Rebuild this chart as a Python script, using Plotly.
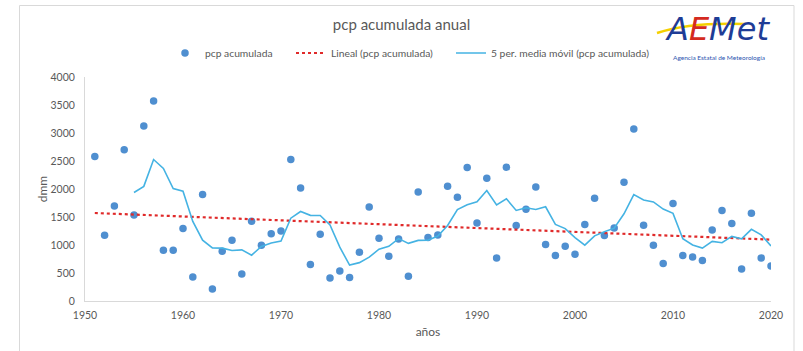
import numpy as np
import plotly.graph_objects as go

years = list(range(1951, 2021))
pcp = [2579, 1173, 1696, 2703, 1536, 3125, 3571, 905, 905, 1293,
       429, 1900, 214, 887, 1084, 482, 1423, 995, 1203, 1250,
       2525, 2018, 650, 1191, 411, 536, 418, 870, 1679, 1120,
       798, 1107, 441, 1946, 1132, 1179, 2048, 1852, 2382, 1393,
       2191, 768, 2388, 1346, 1637, 2036, 1007, 811, 977, 834,
       1364, 1834, 1168, 1304, 2120, 3071, 1352, 995, 668, 1739,
       811, 786, 721, 1268, 1614, 1382, 571, 1566, 768, 625]

# linear trendline as drawn in the chart (values read at both ends)
trend_years = [1951, 2020]
trend_vals = [1571, 1096]

title_text = "pcp acumulada anual"
x_title = "años"
y_title = "dmm"
name_pts = "pcp acumulada"
name_lin = "Lineal (pcp acumulada)"
name_ma = "5 per. media móvil (pcp acumulada)"

vals = np.array(pcp, dtype=float)
# 5-period moving average of the series (as Excel computes it)
ma = np.convolve(vals, np.ones(5) / 5, mode="valid")
ma_years = years[4:]

FONT = "Lato"
GREY = "#595959"

W, H = 803, 351
L, R, T, B = 85, 32, 77, 50
PW, PH = W - L - R, H - T - B


def px(x):
    return (x - L) / PW


def py(y):
    return (H - B - y) / PH


fig = go.Figure()
fig.add_trace(go.Scatter(
    x=years, y=pcp, mode="markers", name=name_pts,
    marker=dict(color="#4F8FD0", size=7.5),
    legend="legend"))
fig.add_trace(go.Scatter(
    x=trend_years, y=trend_vals, mode="lines", name=name_lin,
    line=dict(color="#E02A2A", width=2.2, dash="dot"),
    legend="legend2"))
fig.add_trace(go.Scatter(
    x=ma_years, y=ma, mode="lines", name=name_ma,
    line=dict(color="#45B3E3", width=1.6),
    legend="legend3"))

leg_common = dict(orientation="h", yanchor="middle", xanchor="left",
                  font=dict(family=FONT, size=10.3, color=GREY),
                  bgcolor="rgba(0,0,0,0)", borderwidth=0)
fig.update_layout(
    legend=dict(x=px(165), y=py(53), **leg_common),
    legend2=dict(x=px(291), y=py(53), **leg_common),
    legend3=dict(x=px(451), y=py(53), **leg_common),
)

fig.update_layout(
    width=W, height=H,
    margin=dict(l=L, r=R, t=T, b=B, pad=0),
    paper_bgcolor="white", plot_bgcolor="white",
    font=dict(family=FONT, color=GREY),
    title=dict(text=title_text, x=0.5, xref="container", xanchor="center",
               y=1 - 25 / H, yref="container", yanchor="middle",
               font=dict(family=FONT, size=15, color=GREY)),
    showlegend=True,
    xaxis=dict(range=[1950, 2020], dtick=10, tick0=1950, showgrid=False,
               zeroline=False, showline=True, linecolor="#D9D9D9", linewidth=1,
               ticks="", tickfont=dict(family=FONT, size=10.5, color=GREY),
               ticklabelstandoff=4,
               title=dict(text=x_title, standoff=8,
                          font=dict(family=FONT, size=12, color=GREY))),
    yaxis=dict(range=[0, 4000], dtick=500, tick0=0, showgrid=False,
               zeroline=False, showline=True, linecolor="#D9D9D9", linewidth=1,
               ticks="", tickfont=dict(family=FONT, size=10.5, color=GREY),
               ticklabelstandoff=7,
               title=dict(text=y_title, standoff=0,
                          font=dict(family=FONT, size=12, color=GREY))),
)

# outer chart frame
fig.add_shape(type="rect", xref="paper", yref="paper",
              x0=px(19.5), x1=px(794), y0=py(365), y1=py(5.5),
              line=dict(color="#D9D9D9", width=1), fillcolor="rgba(0,0,0,0)",
              layer="below")

# AEMet logo (text)
fig.add_shape(type="path", xref="paper", yref="paper",
              path=f"M {px(657)},{py(33)} Q {px(690)},{py(22)} {px(745)},{py(24)}",
              line=dict(color="#F5D000", width=2.5))
fig.add_annotation(
    xref="paper", yref="paper", x=px(663), y=py(29), xanchor="left", yanchor="middle",
    text="<i><span style='color:#1E3C96'>A</span><span style='color:#D42A20'>E</span>"
         "<span style='color:#1E3C96'>Met</span></i>",
    showarrow=False, font=dict(family="DejaVu Sans", size=32))
fig.add_annotation(
    xref="paper", yref="paper", x=px(719), y=py(57), xanchor="center", yanchor="middle",
    text="Agencia Estatal de Meteorología", showarrow=False,
    font=dict(family=FONT, size=6.5, color="#2E55B0"))

fig.write_html("out.html")
